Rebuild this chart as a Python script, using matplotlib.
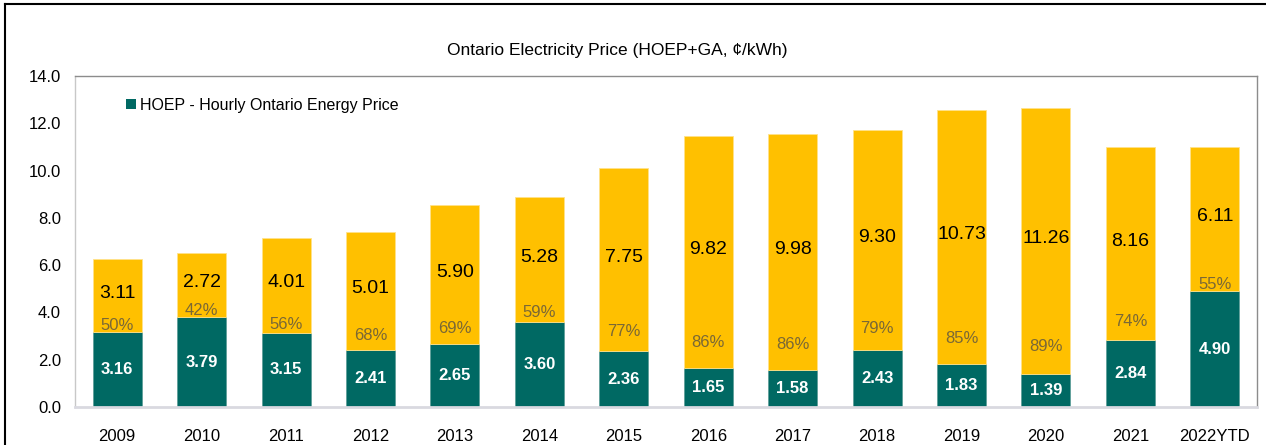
import numpy as np
import matplotlib
matplotlib.use("Agg")
import matplotlib.pyplot as plt
from matplotlib.lines import Line2D
from matplotlib.patches import Patch

plt.rcParams['font.family'] = ['Liberation Sans', 'DejaVu Sans']

years = ['2009', '2010', '2011', '2012', '2013', '2014', '2015',
         '2016', '2017', '2018', '2019', '2020', '2021', '2022YTD']
hoep = [3.16, 3.79, 3.15, 2.41, 2.65, 3.60, 2.36,
        1.65, 1.58, 2.43, 1.83, 1.39, 2.84, 4.90]
ga = [3.11, 2.72, 4.01, 5.01, 5.90, 5.28, 7.75,
      9.82, 9.98, 9.30, 10.73, 11.26, 8.16, 6.11]
ga_share = [50, 42, 56, 68, 69, 59, 77, 86, 86, 79, 85, 89, 74, 55]

teal = '#006963'
gold = '#FFC000'
pct_color = '#7a6836'

fig = plt.figure(figsize=(12.66, 4.45), dpi=100)
ax = fig.add_axes([75 / 1266, 1 - 407 / 445, (1257 - 75) / 1266, (407 - 76) / 445])

x = np.arange(len(years))
w = 0.58
ax.bar(x, hoep, width=w, color=teal, edgecolor='#5f9f9a', linewidth=0.6, zorder=2)
ax.bar(x, ga, width=w, bottom=hoep, color=gold, edgecolor='#ffe28a', linewidth=0.6, zorder=2)

for i in range(len(years)):
    ax.text(x[i], hoep[i] / 2, "%.2f" % hoep[i], ha='center', va='center',
            color='white', fontsize=12, fontweight='bold', zorder=3)
    ax.text(x[i], hoep[i] + ga[i] / 2 + 0.1, "%.2f" % ga[i], ha='center', va='center',
            color='black', fontsize=14, zorder=3)
    off = 0.3 + max(0, ga_share[i] - 55) * 0.025
    ax.text(x[i], hoep[i] + off, "%d%%" % ga_share[i], ha='center', va='center',
            color=pct_color, fontsize=12, zorder=3)

ax.set_xlim(-0.5, len(years) - 0.5)
ax.set_ylim(0, 14)
ax.set_yticks(np.arange(0, 14.1, 2))
ax.set_yticklabels(["%.1f" % v for v in np.arange(0, 14.1, 2)], fontsize=12)
ax.set_xticks(x)
ax.set_xticklabels(years, fontsize=12)
ax.tick_params(axis='both', length=0)
ax.tick_params(axis='x', pad=16)
ax.tick_params(axis='y', pad=10)

for side in ['left', 'top', 'right']:
    ax.spines[side].set_color('#8c8c8c')
    ax.spines[side].set_linewidth(1.0)
ax.spines['left'].set_color('#c8c8c8')
ax.spines['bottom'].set_color('#d9d9e0')
ax.spines['bottom'].set_linewidth(2)

handle = Patch(facecolor=teal, edgecolor='none')
ax.legend([handle], ['HOEP - Hourly Ontario Energy Price'], loc='upper left',
          bbox_to_anchor=(0.031, 0.978), frameon=False, fontsize=11.5,
          handlelength=0.6, handleheight=0.6, handletextpad=0.3)

fig.text(617 / 1266, 1 - 50 / 445, 'Ontario Electricity Price (HOEP+GA, \u00a2/kWh)',
         ha='center', va='center', fontsize=12.5)

# outer frame (cropped at right and bottom)
fig.add_artist(Line2D([5 / 1266, 5 / 1266], [0, 1 - 4 / 445], color='black', lw=1.5,
                      transform=fig.transFigure))
fig.add_artist(Line2D([5 / 1266, 1], [1 - 4 / 445, 1 - 4 / 445], color='black', lw=1.5,
                      transform=fig.transFigure))

fig.savefig("out.png", dpi=100)
